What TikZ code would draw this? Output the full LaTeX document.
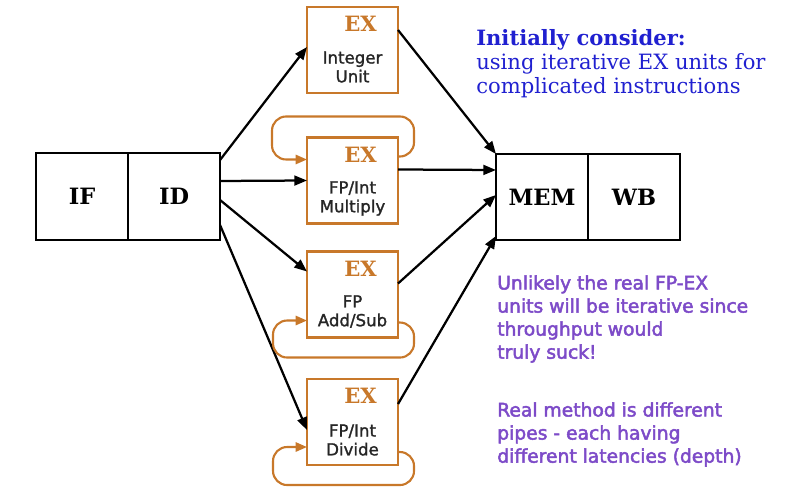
\documentclass[tikz,border=0pt]{standalone}
\usepackage{fontspec}
\setmainfont{DejaVu Serif}
\setsansfont{DejaVu Sans}
\newfontfamily\notefont{DejaVu Sans}[FakeBold=2.5]
\newfontfamily\unitfont{DejaVu Sans}[FakeBold=1.5]
\usetikzlibrary{positioning, arrows.meta, calc}
\definecolor{exOrange}{HTML}{C8782A}
\definecolor{noteBlue}{HTML}{2020D0}
\definecolor{notePurple}{HTML}{7D4BC8}
\definecolor{unitText}{HTML}{262626}

\begin{document}
\begin{tikzpicture}[x=0.025cm, y=-0.025cm,
stage/.style={draw, line width=1.5pt, outer sep=0pt, minimum width=2.3cm, minimum height=2.175cm, font=\fontsize{16}{19}\selectfont\bfseries},
unit/.style={draw=exOrange, line width=1.5pt, outer sep=0pt, minimum width=2.275cm, minimum height=2.15cm},
extag/.style={font=\fontsize{15}{18}\selectfont\bfseries, color=exOrange, inner sep=0pt},
ulbl/.style={align=center, font=\unitfont\fontsize{11.8}{13.4}\selectfont, color=unitText, inner sep=0pt},
feed/.style={line width=1.6pt, -{Triangle[length=9pt, width=7pt]}},
iter/.style={line width=1.5pt, color=exOrange, rounded corners=10pt, -{Triangle[length=8pt, width=6.5pt]}},
note/.style={align=left, anchor=north west, inner sep=0pt}]
\useasboundingbox (0,0) rectangle (796,502);
% pipeline stages
\node[stage] (if) at (82,196.5) {IF};
\node[stage, right=0pt of if] (id) {ID};
\node[stage, minimum height=2.15cm] (mem) at (542,197) {MEM};
\node[stage, minimum height=2.15cm, right=0pt of mem] (wb) {WB};
% EX units
\node[unit] (int) at (352.5,50) {};
\node[unit] (mul) at (352.5,180.5) {};
\node[unit] (add) at (352.5,294.5) {};
\node[unit] (div) at (352.5,422) {};
\node[extag] (intex) at ($(int.north)+(8,17)$) {EX};
\node[extag] (mulex) at ($(mul.north)+(8,17)$) {EX};
\node[extag] (addex) at ($(add.north)+(8,17)$) {EX};
\node[extag] (divex) at ($(div.north)+(8,17)$) {EX};
\node[ulbl] (intlbl) at ($(int.center)+(0,17)$) {Integer\\Unit};
\node[ulbl] (mullbl) at ($(mul.center)+(0,18)$) {FP/Int\\Multiply};
\node[ulbl] (addlbl) at ($(add.center)+(0,17)$) {FP\\Add/Sub};
\node[ulbl] (divlbl) at ($(div.center)+(0,18)$) {FP/Int\\Divide};
% ID to EX units
\draw[feed] ($(id.north east)+(0,7)$) -- ($(int.north west)+(0,40)$);
\draw[feed] ($(id.north east)+(0,28)$) -- ($(mul.north west)+(0,43)$);
\draw[feed] ($(id.north east)+(0,47)$) -- ($(add.north west)+(0,20)$);
\draw[feed] ($(id.north east)+(0,72)$) -- ($(div.north west)+(0,51)$);
% EX units to MEM
\draw[feed] ($(int.north east)+(0,23)$) -- (mem.north west);
\draw[feed] ($(mul.north east)+(0,32)$) -- ($(mem.north west)+(0,16)$);
\draw[feed] ($(add.north east)+(0,32)$) -- ($(mem.north west)+(0,41)$);
\draw[feed] ($(div.north east)+(0,25)$) -- ($(mem.north west)+(0,82)$);
% iterative loops
\draw[iter] ($(mul.north east)+(0,19)$) -- ++(16,0) -- ++(0,-40) -- ++(-142,0) -- ++(0,43) -- ($(mul.north west)+(0,22)$);
\draw[iter] ($(add.south east)+(0,-15)$) -- ++(16,0) -- ++(0,35) -- ++(-141,0) -- ++(0,-37) -- ($(add.south west)+(0,-17)$);
\draw[iter] ($(div.south east)+(0,-13)$) -- ++(16,0) -- ++(0,33) -- ++(-141,0) -- ++(0,-38) -- ($(div.south west)+(0,-18)$);
% notes
\node[note, font=\fontsize{15}{17.2}\selectfont, color=noteBlue] (consider) at (476,29) {\textbf{Initially consider:}\\using iterative EX units for\\complicated instructions};
\node[note, font=\notefont\fontsize{13.3}{16.4}\selectfont, color=notePurple] (unlikely) at (497,275) {Unlikely the real FP-EX\\units will be iterative since\\throughput would\\truly suck!};
\node[note, font=\notefont\fontsize{13.3}{16.4}\selectfont, color=notePurple] (realm) at (497,402) {Real method is different\\pipes - each having\\different latencies (depth)};
\end{tikzpicture}
\end{document}
